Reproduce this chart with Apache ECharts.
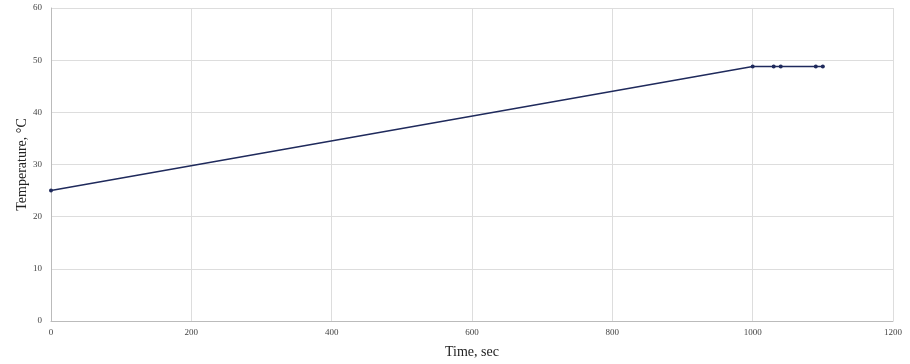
<!DOCTYPE html>
<html><head><meta charset="utf-8">
<script src="https://cdn.jsdelivr.net/npm/echarts@6/dist/echarts.min.js"></script>
<style>html,body{margin:0;padding:0;background:#fff}#c{width:910px;height:364px}</style>
</head><body><div id="c"></div>
<script>
const timeSec = [0, 1000, 1030, 1040, 1090, 1100];
const tempC = [25, 48.8, 48.8, 48.8, 48.8, 48.8];
const xTicks = [0, 200, 400, 600, 800, 1000, 1200];
const yTicks = [0, 10, 20, 30, 40, 50, 60];

const chart = echarts.init(document.getElementById('c'));
const font = '"Liberation Serif", "DejaVu Serif", serif';
chart.setOption({
  animation: false,
  grid: {left: 51, right: 17, top: 8, bottom: 40},
  xAxis: {
    type: 'value', min: 0, max: 1200, interval: 200,
    name: 'Time, sec', nameLocation: 'middle', nameGap: 24,
    nameTextStyle: {fontFamily: font, fontSize: 14, color: '#222'},
    axisLine: {lineStyle: {color: '#bbb'}},
    axisTick: {show: false},
    axisLabel: {fontFamily: font, fontSize: 9, color: '#444', margin: 7, formatter: v => String(v)},
    splitLine: {lineStyle: {color: '#ddd'}}
  },
  yAxis: {
    type: 'value', min: 0, max: 60, interval: 10,
    name: 'Temperature, °C', nameLocation: 'middle', nameGap: 22, nameMoveOverlap: false,
    nameTextStyle: {fontFamily: font, fontSize: 14, color: '#222'},
    axisLine: {show: true, lineStyle: {color: '#bbb'}},
    axisTick: {show: false},
    axisLabel: {fontFamily: font, fontSize: 9, color: '#444', margin: 9},
    splitLine: {lineStyle: {color: '#ddd'}}
  },
  series: [{
    type: 'line',
    data: timeSec.map((t, i) => [t, tempC[i]]),
    symbol: 'circle', symbolSize: 4,
    lineStyle: {color: '#1f2a5c', width: 1.5},
    itemStyle: {color: '#1f2a5c'}
  }]
});
</script></body></html>
